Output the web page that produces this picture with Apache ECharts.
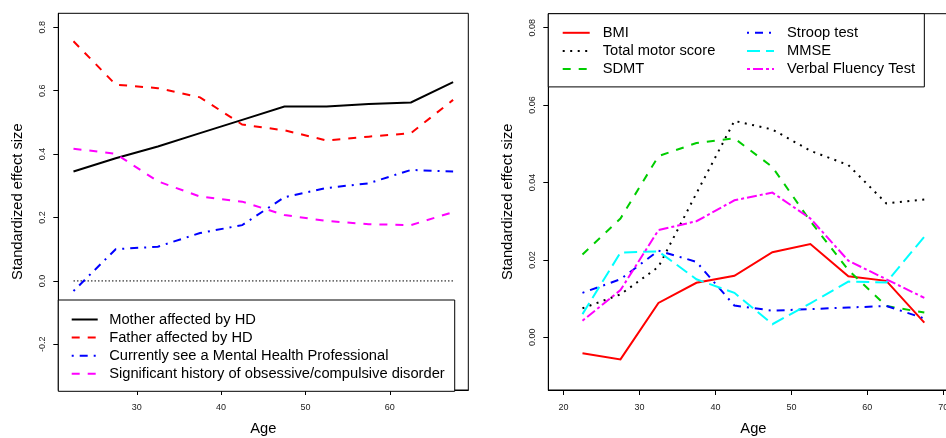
<!DOCTYPE html>
<html>
<head>
<meta charset="utf-8">
<script src="https://cdn.jsdelivr.net/npm/echarts@6/dist/echarts.min.js"></script>
<style>
  html, body { margin: 0; padding: 0; background: #fff; }
  #chart { width: 946px; height: 438px; }
</style>
</head>
<body>
<div id="chart"></div>
<script>
// Age group midpoints shared by both panels
const ages = [22.5, 27.5, 32.5, 37.5, 42.5, 47.5, 52.5, 57.5, 62.5, 67.5];

// Left panel: family history / psychiatric covariates
const motherHD     = [0.345, 0.387, 0.424, 0.466, 0.508, 0.550, 0.550, 0.558, 0.563, 0.627];
const fatherHD     = [0.756, 0.619, 0.608, 0.579, 0.493, 0.475, 0.443, 0.455, 0.466, 0.571];
const mentalHealth = [-0.032, 0.100, 0.108, 0.151, 0.176, 0.264, 0.293, 0.308, 0.350, 0.345];
const ocdHistory   = [0.417, 0.401, 0.314, 0.266, 0.250, 0.208, 0.189, 0.179, 0.176, 0.217];

// Reference level drawn across the left panel
const refAges  = [22.5, 67.5];
const refLevel = [0, 0];

// Right panel: clinical measures
const bmi    = [-0.0041, -0.0057, 0.0089, 0.0141, 0.0159, 0.0220, 0.0241, 0.0158, 0.0146, 0.0038];
const motor  = [0.0075, 0.0111, 0.0182, 0.0372, 0.0559, 0.0537, 0.0482, 0.0445, 0.0346, 0.0356];
const sdmt   = [0.0214, 0.0307, 0.0468, 0.0502, 0.0514, 0.0440, 0.0300, 0.0174, 0.0081, 0.0064];
const stroop = [0.0115, 0.0150, 0.0224, 0.0195, 0.0082, 0.0069, 0.0073, 0.0077, 0.0081, 0.0049];
const mmse   = [0.0060, 0.0219, 0.0222, 0.0150, 0.0115, 0.0034, 0.0088, 0.0144, 0.0142, 0.0260];
const verbal = [0.0043, 0.0122, 0.0277, 0.0300, 0.0354, 0.0374, 0.0307, 0.0198, 0.0150, 0.0102];

// Tick positions
const leftXTicks  = [30, 40, 50, 60];
const leftYTicks  = [-0.2, 0, 0.2, 0.4, 0.6, 0.8];
const rightXTicks = [20, 30, 40, 50, 60, 70];
const rightYTicks = [0, 0.02, 0.04, 0.06, 0.08];

const FONT = '"Liberation Sans", Arial, Helvetica, sans-serif';
const DASHED   = [8, 8];
const DOTTED   = [2, 5.5];
const DOTDASH  = [2, 6, 8, 6];
const LONGDASH = [13, 6];
const TWODASH  = [3, 3, 10, 3];

const zip = (xs, ys) => xs.map((x, i) => [x, ys[i]]);

function lineSeries(name, values, color, dash, gridIdx, width) {
  return {
    name: name,
    type: 'line',
    xAxisIndex: gridIdx,
    yAxisIndex: gridIdx,
    data: zip(ages, values),
    symbol: 'none',
    silent: true,
    z: 3,
    lineStyle: { color: color, width: width || 2, type: dash || 'solid', cap: 'butt', join: 'miter' },
    itemStyle: { color: color }
  };
}

function xAxis(gridIdx, min, max, ticks) {
  return {
    type: 'value', gridIndex: gridIdx, min: min, max: max,
    name: 'Age', nameLocation: 'middle', nameGap: 31,
    nameTextStyle: { fontFamily: FONT, fontSize: 14.7, color: '#000' },
    axisLine: { show: true, onZero: false, lineStyle: { color: '#000', width: 1 } },
    axisTick: { show: true, length: 5, customValues: ticks, lineStyle: { color: '#000', width: 1 } },
    axisLabel: { show: true, customValues: ticks, margin: 13, fontFamily: FONT, fontSize: 9, color: '#222',
                 formatter: v => String(v) },
    splitLine: { show: false }
  };
}

function yAxis(gridIdx, min, max, ticks, digits) {
  return {
    type: 'value', gridIndex: gridIdx, min: min, max: max,
    name: 'Standardized effect size', nameLocation: 'middle', nameGap: 33, nameRotate: 90,
    nameTextStyle: { fontFamily: FONT, fontSize: 14.7, color: '#000' },
    axisLine: { show: true, onZero: false, lineStyle: { color: '#000', width: 1 } },
    axisTick: { show: true, length: 5, customValues: ticks, lineStyle: { color: '#000', width: 1 } },
    axisLabel: { show: true, customValues: ticks, rotate: 90, margin: 11, fontFamily: FONT, fontSize: 9, color: '#222',
                 formatter: v => Number(v).toFixed(digits) },
    splitLine: { show: false }
  };
}

const legendBase = {
  orient: 'vertical',
  selectedMode: false,
  backgroundColor: '#fff',
  borderColor: '#000',
  borderWidth: 1,
  borderRadius: 0,
  itemWidth: 27,
  itemHeight: 14,
  itemGap: 3.1,
  itemStyle: { color: 'rgba(0,0,0,0)', borderWidth: 0, opacity: 0 },
  textStyle: { fontFamily: FONT, fontSize: 14.7, color: '#000', padding: [0, 0, 0, 8] }
};

const chart = echarts.init(document.getElementById('chart'), null, { renderer: 'canvas' });

chart.setOption({
  animation: false,
  backgroundColor: '#fff',
  grid: [
    { left: 58.3, top: 13.3, width: 410, height: 376.7, show: true, borderColor: '#000', borderWidth: 1,
      backgroundColor: 'transparent', containLabel: false, outerBoundsMode: 'none' },
    { left: 548.3, top: 13.7, width: 410.2, height: 376.3, show: true, borderColor: '#000', borderWidth: 1,
      backgroundColor: 'transparent', containLabel: false, outerBoundsMode: 'none' }
  ],
  xAxis: [
    xAxis(0, 20.7, 69.3, leftXTicks),
    xAxis(1, 18, 72, rightXTicks)
  ],
  yAxis: [
    yAxis(0, -0.344, 0.844, leftYTicks, 1),
    yAxis(1, -0.0136, 0.0836, rightYTicks, 2)
  ],
  legend: [
    // left panel key
    Object.assign({}, legendBase, {
      left: 58.3, top: 300,
      padding: [12, 10, 10, 12.4],
      itemWidth: 26,
      textStyle: Object.assign({}, legendBase.textStyle, { padding: [0, 0, 0, 6.5] }),
      data: ['Mother affected by HD', 'Father affected by HD',
             'Currently see a Mental Health Professional',
             'Significant history of obsessive/compulsive disorder']
    }),
    // right panel key, first column (carries the frame for both columns)
    Object.assign({}, legendBase, {
      left: 548.3, top: 13.7,
      padding: [11.6, 209, 10.4, 13.4],
      data: ['BMI', 'Total motor score', 'SDMT']
    }),
    // right panel key, second column
    Object.assign({}, legendBase, {
      left: 746, top: 25.3,
      padding: 0,
      z: 5,
      backgroundColor: 'transparent',
      borderWidth: 0,
      data: ['Stroop test', 'MMSE', 'Verbal Fluency Test']
    })
  ],
  series: [
    {
      name: 'zero', type: 'line', xAxisIndex: 0, yAxisIndex: 0,
      data: zip(refAges, refLevel), symbol: 'none', silent: true, z: 2,
      lineStyle: { color: '#000', width: 1, type: [1.5, 2] }
    },
    lineSeries('Mother affected by HD', motherHD, '#000000', 'solid', 0),
    lineSeries('Father affected by HD', fatherHD, '#FF0000', DASHED, 0),
    lineSeries('Currently see a Mental Health Professional', mentalHealth, '#0000FF', DOTDASH, 0),
    lineSeries('Significant history of obsessive/compulsive disorder', ocdHistory, '#FF00FF', DASHED, 0),

    lineSeries('BMI', bmi, '#FF0000', 'solid', 1),
    lineSeries('Total motor score', motor, '#000000', DOTTED, 1),
    lineSeries('SDMT', sdmt, '#00CD00', DASHED, 1),
    lineSeries('Stroop test', stroop, '#0000FF', DOTDASH, 1),
    lineSeries('MMSE', mmse, '#00FFFF', LONGDASH, 1),
    lineSeries('Verbal Fluency Test', verbal, '#FF00FF', TWODASH, 1)
  ]
});
</script>
</body>
</html>
